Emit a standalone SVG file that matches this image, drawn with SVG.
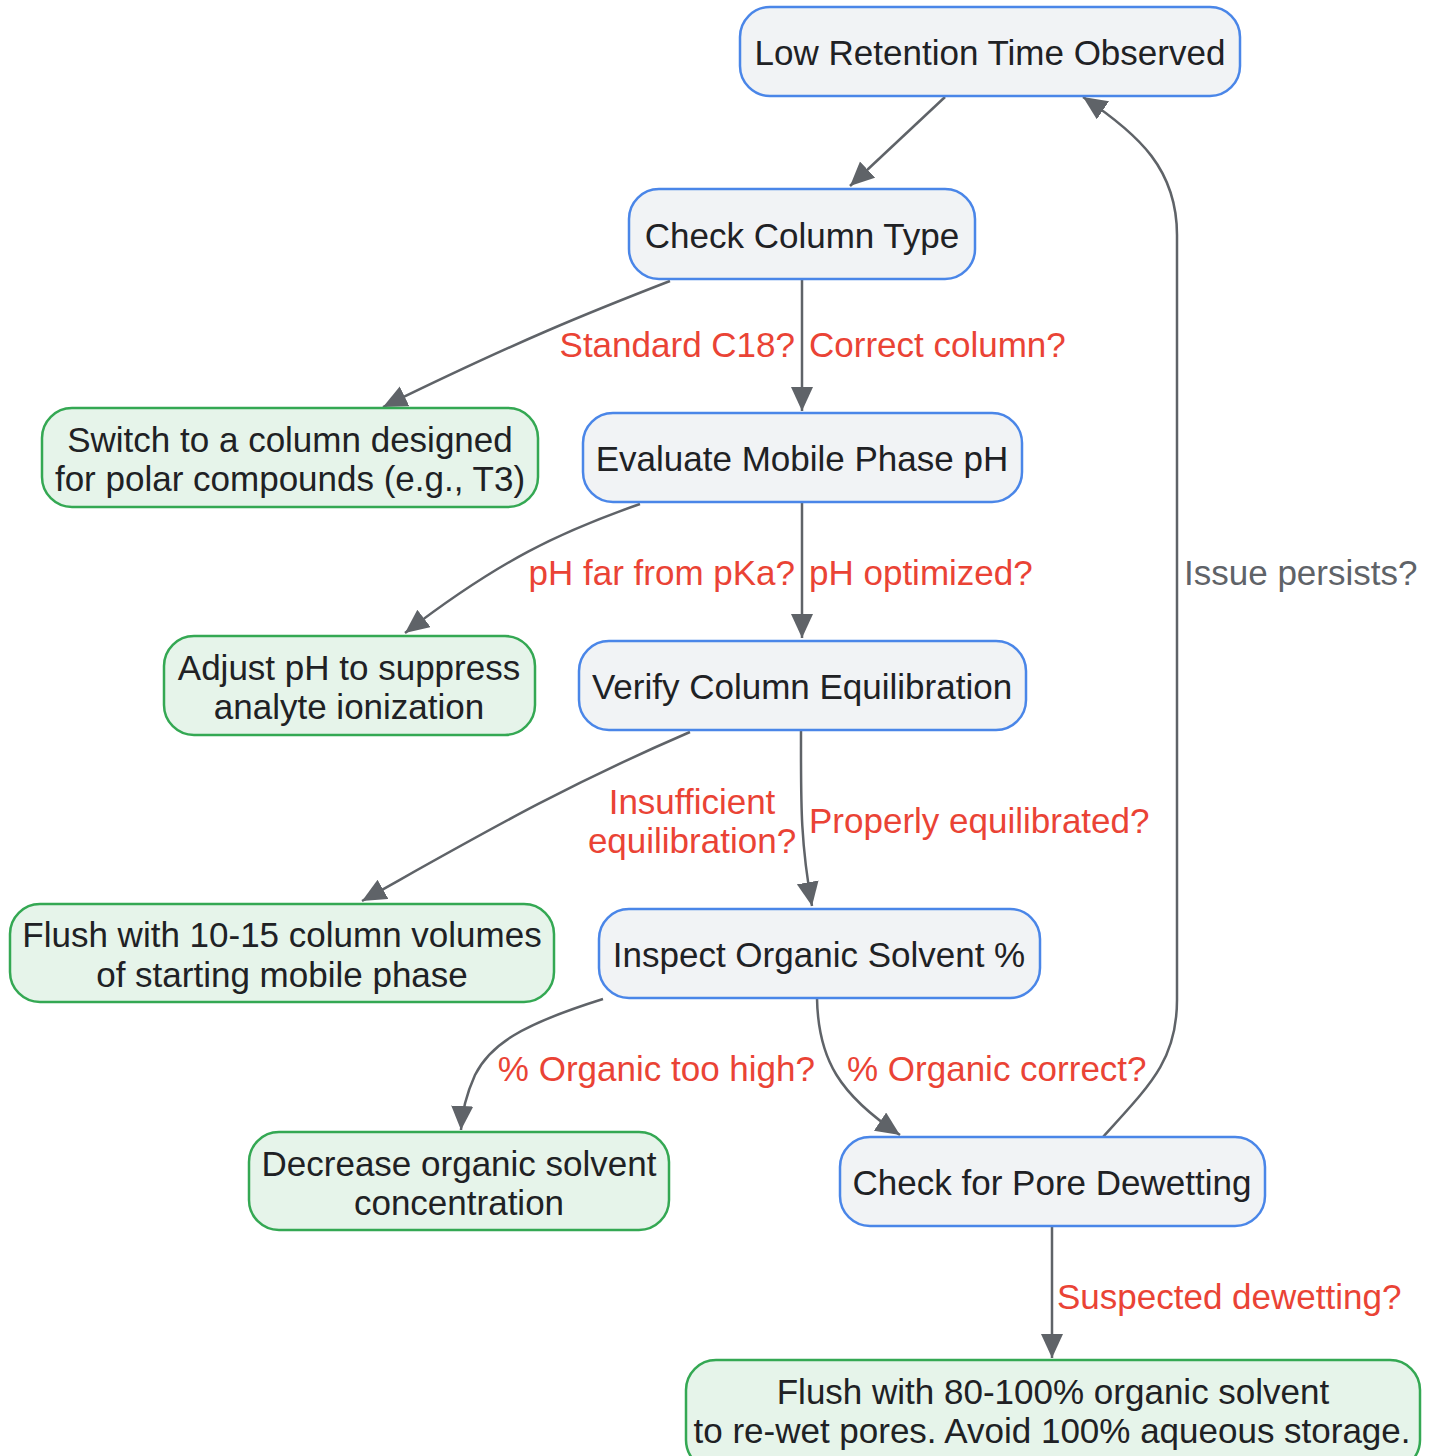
<svg xmlns="http://www.w3.org/2000/svg" width="1435" height="1456" viewBox="0 0 1435 1456">
<style>
.proc rect{fill:#f1f3f5;stroke:#4a86e8;stroke-width:2.5}
.act rect{fill:#e6f4ea;stroke:#34a853;stroke-width:2.5}
.node text{font-family:"Liberation Sans",Arial,sans-serif;font-size:35px;fill:#202124;text-anchor:middle}
.edge{fill:none;stroke:#5f6368;stroke-width:2.5}
.lbl{font-family:"Liberation Sans",Arial,sans-serif;font-size:35px;fill:#ea4335}
.lblg{fill:#5f6368}
</style>
<defs>
<marker id="ah" markerUnits="userSpaceOnUse" markerWidth="26" markerHeight="24" refX="24" refY="11" orient="auto">
<path d="M0,0 L24,11 L0,22 z" fill="#5f6368"/>
</marker>
</defs>
<rect width="1435" height="1456" fill="#ffffff"/>
<g id="connectors">
<path class="edge" marker-end="url(#ah)" d="M945,97 L850,186"/>
<path class="edge" marker-end="url(#ah)" d="M670,281 C590,312 520,340 383,407"/>
<path class="edge" marker-end="url(#ah)" d="M802,280 L802,411"/>
<path class="edge" marker-end="url(#ah)" d="M640,504 C560,532 500,560 405,633"/>
<path class="edge" marker-end="url(#ah)" d="M802,503 L802,638"/>
<path class="edge" marker-end="url(#ah)" d="M690,732 C560,788 480,835 362,901"/>
<path class="edge" marker-end="url(#ah)" d="M801,731 C801,800 800,840 812,906"/>
<path class="edge" marker-end="url(#ah)" d="M603,999 C520,1025 490,1045 475,1075 C466,1095 462,1110 461,1130"/>
<path class="edge" marker-end="url(#ah)" d="M817,998 C818,1060 840,1095 900,1135"/>
<path class="edge" marker-end="url(#ah)" d="M1103,1137 C1150,1085 1177,1060 1177,1000 L1177,235 C1177,170 1140,135 1083,97"/>
<path class="edge" marker-end="url(#ah)" d="M1052,1227 L1052,1358"/>
<text class="lbl" x="795" y="357" text-anchor="end">Standard C18?</text>
<text class="lbl" x="809" y="357">Correct column?</text>
<text class="lbl" x="795" y="585" text-anchor="end">pH far from pKa?</text>
<text class="lbl" x="809" y="585">pH optimized?</text>
<text class="lbl" x="692" y="814" text-anchor="middle">Insufficient</text>
<text class="lbl" x="692" y="853" text-anchor="middle">equilibration?</text>
<text class="lbl" x="809" y="833">Properly equilibrated?</text>
<text class="lbl" x="815" y="1081" text-anchor="end">% Organic too high?</text>
<text class="lbl" x="847" y="1081">% Organic correct?</text>
<text class="lbl lblg" x="1184" y="585">Issue persists?</text>
<text class="lbl" x="1057" y="1309">Suspected dewetting?</text>
</g>
<g id="n1" class="node proc"><rect x="740" y="7" width="500" height="89" rx="30"/><text x="990" y="65">Low Retention Time Observed</text></g>
<g id="n2" class="node proc"><rect x="629" y="189" width="346" height="90" rx="30"/><text x="802" y="248">Check Column Type</text></g>
<g id="n3" class="node act"><rect x="42" y="408" width="496" height="99" rx="30"/><text x="290" y="452">Switch to a column designed</text><text x="290" y="491">for polar compounds (e.g., T3)</text></g>
<g id="n4" class="node proc"><rect x="583" y="413" width="439" height="89" rx="30"/><text x="802" y="471">Evaluate Mobile Phase pH</text></g>
<g id="n5" class="node act"><rect x="164" y="636" width="371" height="99" rx="30"/><text x="349" y="680">Adjust pH to suppress</text><text x="349" y="719">analyte ionization</text></g>
<g id="n6" class="node proc"><rect x="579" y="641" width="447" height="89" rx="30"/><text x="802" y="699">Verify Column Equilibration</text></g>
<g id="n7" class="node act"><rect x="10" y="904" width="544" height="98" rx="30"/><text x="282" y="947">Flush with 10-15 column volumes</text><text x="282" y="987">of starting mobile phase</text></g>
<g id="n8" class="node proc"><rect x="599" y="909" width="441" height="89" rx="30"/><text x="819" y="967">Inspect Organic Solvent %</text></g>
<g id="n9" class="node act"><rect x="249" y="1132" width="420" height="98" rx="30"/><text x="459" y="1176">Decrease organic solvent</text><text x="459" y="1215">concentration</text></g>
<g id="n10" class="node proc"><rect x="840" y="1137" width="425" height="89" rx="30"/><text x="1052" y="1195">Check for Pore Dewetting</text></g>
<g id="n11" class="node act"><rect x="686" y="1360" width="734" height="110" rx="30"/><text x="1053" y="1404">Flush with 80-100% organic solvent</text><text x="1052" y="1443" textLength="717" lengthAdjust="spacingAndGlyphs">to re-wet pores. Avoid 100% aqueous storage.</text></g>
</svg>
